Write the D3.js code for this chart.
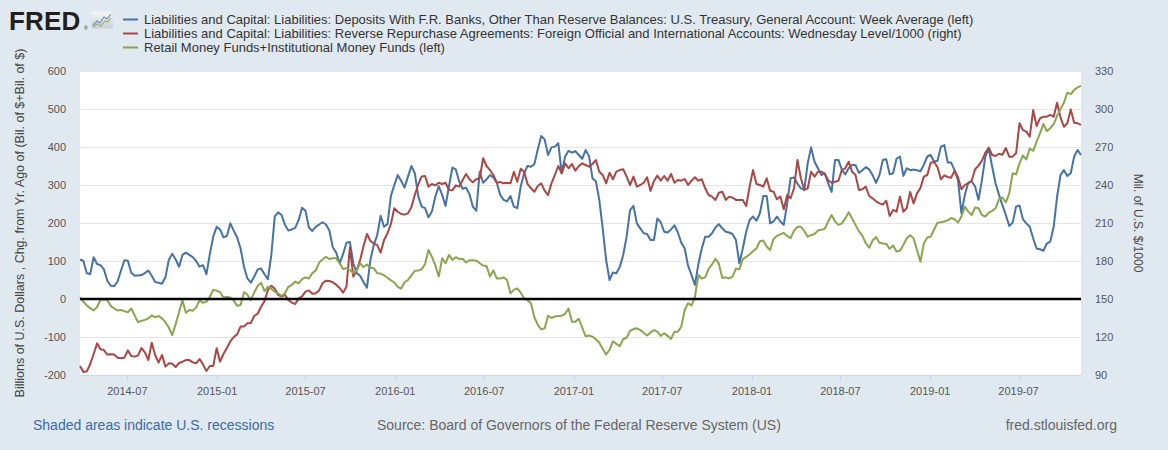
<!DOCTYPE html>
<html><head><meta charset="utf-8">
<script src="https://cdn.jsdelivr.net/npm/d3@7"></script>
<style>
html,body{margin:0;padding:0;background:#e1e9f0;}
svg{display:block;font-family:"Liberation Sans",Arial,sans-serif;}
</style></head>
<body><svg id="c" width="1168" height="450"></svg>
<script>
// ---- data (weekly, starting 2014-03-26) ----
const startDate = "2014-03-26";
const tga = [104,100,68,66,110,92,89,78,48,35,34,46,75,102,101,69,61,62,63,68,75,61,45,43,40,57,103,119,104,85,116,122,116,110,100,85,89,65,118,164,190,183,162,166,199,180,162,133,85,54,43,59,78,80,65,52,116,217,228,221,195,180,183,187,208,240,232,188,179,190,196,
202,196,180,136,122,94,118,148,150,94,68,61,44,30,103,142,168,219,190,197,271,300,326,311,293,322,350,331,271,243,239,215,230,269,297,274,245,296,346,341,309,290,293,276,243,232,335,306,315,326,320,306,274,261,257,271,243,239,296,331,350,348,355,394,429,420,379,399,401,410,331,375,390,
385,389,379,369,392,376,318,310,261,186,103,50,70,68,84,116,164,234,245,199,186,173,171,155,155,212,202,177,175,183,194,175,148,133,87,63,37,92,133,164,164,173,188,197,186,177,175,171,155,94,133,177,208,217,206,225,271,271,199,204,217,204,195,252,318,320,304,291,287,357,399,361,344,
326,331,304,282,366,366,340,328,344,353,352,332,339,347,341,326,306,326,366,368,328,331,369,375,324,344,339,341,339,336,353,375,379,361,364,401,405,359,359,339,313,225,274,306,310,296,261,313,375,396,348,304,274,247,221,192,201,243,246,210,199,190,160,133,131,127,146,151,190,269,326,339,324,331,375,392,379];
const rrp = [97.1,92.4,92.9,98.7,106.6,115,110.3,109.7,106.1,106.3,106.1,103.7,103.2,103.7,109.5,105,104.5,105.5,111.3,107.9,101.8,115.5,105.8,99.7,105.8,96.6,99.2,98.9,96.3,99.5,100.5,101.8,101.8,100,99.2,102.6,98.4,93.2,97.1,97.1,111.1,100.5,106.6,111.3,116.6,120,122.1,128.2,128.2,130.8,131.1,136.6,138.4,143.9,148.2,157.1,160.5,158.2,153.2,151.8,153.2,149.2,147.1,146.1,150.5,152.1,155.8,156.8,154.2,154.5,156.8,
162.4,164.5,164.2,163.2,161.3,158.7,155,159.7,190.8,167.6,172.9,180.8,191.8,201.3,195.8,193.9,192.6,186.6,196.6,201.8,209.2,221.6,218.9,217.1,216.6,217.6,222.4,232.1,240.5,246.8,247.1,238.7,240.8,239.7,241.8,240.8,241.8,236.1,235.8,239.7,238.7,243.9,248.7,244.5,242.1,244.5,245.3,261.1,255,251.8,247.9,241.8,242.4,241.3,241.8,241.3,250.5,242.6,252.9,250.5,240.8,237.4,234.7,239.2,241.3,235.5,232.1,241.3,247.9,255,249.2,257.1,253.2,
256.6,251.3,255,257.1,255.8,254.5,256.6,259.7,250.5,247.9,241.3,249.7,244.5,250.5,251.8,252.4,246.6,240,246.6,238.7,240,241.8,246.1,235.3,243.2,247.4,243.4,247.1,243.4,248.7,241.8,243.9,243.4,244.7,240,243.4,246.1,243.4,244.5,237.4,232.1,230.8,228.2,233.9,234.7,228.2,230.8,230,228.2,228.2,228.2,223.4,238.7,251.8,240.8,240,238.7,245.3,235.5,234.7,228.7,230.8,220.8,232.1,229.5,237.4,259.7,245.3,236.1,237.4,250.5,246.6,250.5,
250.5,248.7,243.7,241.8,242.6,243.4,251.8,253.2,258.4,250.5,247.9,236.1,236.6,238.7,231.3,229.5,227.1,225.5,224.5,227.6,215.5,220.3,218.9,230.8,218.9,221.8,234.5,225.5,233.4,237.6,246.6,247.9,257.6,258.2,254,244.5,247.6,246.3,245.8,251.3,246.1,236.6,240,241.3,243.4,252.4,255.3,259.2,265.5,269.5,263.7,262.9,264.7,263.9,269.2,262.4,262.4,265,288.7,283.4,282.1,278.2,299.2,286.6,292.6,293.9,293.9,295.3,293.9,305,293.4,286,288.7,299.7,289.2,288.7,287.4];
const mmf = [4,-7,-17,-24,-30,-21,-2,-1,-3,-18,-25,-30,-29,-32,-35,-25,-43,-61,-57,-55,-51,-43,-48,-45,-51,-61,-75,-95,-66,-34,-3,-36,-29,-31,-22,-4,-10,-7,6,24,22,18,4,6,4,-4,-18,-16,18,11,-3,17,34,43,21,32,27,19,15,8,15,32,37,46,41,52,57,54,68,75,96,
104,111,105,107,107,94,79,81,76,68,75,94,84,91,83,81,68,67,62,56,49,44,32,27,44,50,62,74,75,78,92,129,111,89,59,107,94,116,103,110,105,106,96,102,102,101,94,88,87,59,75,54,54,57,50,15,24,28,17,1,-3,-11,-48,-68,-80,-77,-44,-50,-46,-45,-44,-39,-25,
-60,-60,-52,-75,-98,-96,-99,-106,-115,-131,-146,-134,-111,-118,-124,-106,-102,-84,-79,-77,-82,-89,-96,-88,-82,-86,-97,-90,-97,-105,-86,-86,-73,-29,-11,-17,6,63,54,57,79,91,106,93,55,57,54,59,80,78,105,111,117,126,133,152,154,138,129,158,166,170,174,166,160,180,190,190,179,164,168,171,180,
182,185,204,221,204,195,199,212,228,212,195,178,167,147,135,154,163,148,146,145,132,141,125,127,142,160,168,159,129,98,146,162,164,183,201,202,204,207,213,210,201,217,243,230,221,241,239,221,217,227,232,239,262,267,254,278,331,328,357,378,367,396,390,414,436,461,442,449,460,482,499,517,543,539,550,557,561];
const leftTicks = [-200,-100,0,100,200,300,400,500,600];
const rightTicks = [90,120,150,180,210,240,270,300,330];
const legendLabels = [
 "Liabilities and Capital: Liabilities: Deposits With F.R. Banks, Other Than Reserve Balances: U.S. Treasury, General Account: Week Average (left)",
 "Liabilities and Capital: Liabilities: Reverse Repurchase Agreements: Foreign Official and International Accounts: Wednesday Level/1000 (right)",
 "Retail Money Funds+Institutional Money Funds (left)"];
const colors = ["#4572a7","#aa4643","#89a54e"];

// ---- layout ----
const L=80, R=1081, T=71, B=375;
const svg = d3.select("#c");
const t0 = new Date(startDate+"T00:00:00Z").getTime();
const dates = tga.map((_,i)=>new Date(t0 + i*7*864e5));
const x = d3.scaleUtc().domain([dates[0], dates[dates.length-1]]).range([L,R]);
const yL = d3.scaleLinear().domain([-200,600]).range([B,T]);
const yR = d3.scaleLinear().domain([90,330]).range([B,T]);

svg.append("rect").attr("x",L).attr("y",T).attr("width",R-L).attr("height",B-T).attr("fill","#fff");
// grid
svg.append("g").selectAll("line").data(leftTicks.slice(1)).join("line")
 .attr("x1",L).attr("x2",R).attr("y1",d=>Math.round(yL(d))+0.5).attr("y2",d=>Math.round(yL(d))+0.5)
 .attr("stroke","#e6e6e6").attr("stroke-width",1);
// x axis line and ticks
svg.append("line").attr("x1",L).attr("x2",R).attr("y1",B+0.5).attr("y2",B+0.5).attr("stroke","#ccd6eb");
const xt = x.ticks(d3.utcMonth.every(6));
svg.append("g").selectAll("line").data(xt).join("line")
 .attr("x1",d=>Math.round(x(d))+0.5).attr("x2",d=>Math.round(x(d))+0.5).attr("y1",B).attr("y2",B+6).attr("stroke","#ccd6eb");
svg.append("g").selectAll("text").data(xt).join("text")
 .attr("x",d=>x(d)).attr("y",395).attr("text-anchor","middle").attr("font-size",11).attr("fill","#555")
 .text(d3.utcFormat("%Y-%m"));
// y labels
svg.append("g").selectAll("text").data(leftTicks).join("text")
 .attr("x",66).attr("y",d=>yL(d)+4).attr("text-anchor","end").attr("font-size",11).attr("fill","#555").text(d=>d);
svg.append("g").selectAll("text").data(rightTicks).join("text")
 .attr("x",1095).attr("y",d=>yR(d)+4).attr("text-anchor","start").attr("font-size",11).attr("fill","#555").text(d=>d);
// axis titles
svg.append("text").attr("transform","translate(24,223) rotate(-90)").attr("text-anchor","middle")
 .attr("font-size",12.5).attr("fill","#444").text("Billions of U.S. Dollars , Chg. from Yr. Ago of (Bil. of $+Bil. of $)");
svg.append("text").attr("transform","translate(1134,223) rotate(90)").attr("text-anchor","middle")
 .attr("font-size",12).attr("fill","#444").text("Mil. of U.S. $/1000");

// lines
const g = svg.append("g");
const mk = (sc)=>d3.line().x((d,i)=>x(dates[i])).y(d=>sc(d));
g.append("path").datum(tga).attr("d",mk(yL)).attr("fill","none").attr("stroke",colors[0]).attr("stroke-width",2).attr("stroke-linejoin","round");
g.append("path").datum(rrp).attr("d",mk(yR)).attr("fill","none").attr("stroke",colors[1]).attr("stroke-width",2).attr("stroke-linejoin","round");
g.append("path").datum(mmf).attr("d",mk(yL)).attr("fill","none").attr("stroke",colors[2]).attr("stroke-width",2).attr("stroke-linejoin","round");
// zero line
svg.append("line").attr("x1",L).attr("x2",R).attr("y1",yL(0)).attr("y2",yL(0)).attr("stroke","#000").attr("stroke-width",2.5);

// legend
const lg = svg.append("g");
legendLabels.forEach((t,i)=>{
  const yy = 19.5 + i*14;
  lg.append("line").attr("x1",123).attr("x2",138).attr("y1",yy).attr("y2",yy).attr("stroke",colors[i]).attr("stroke-width",2);
  lg.append("text").attr("x",144).attr("y",yy+4.4).attr("font-size",13).attr("fill","#333").text(t);
});

// logo
svg.append("text").attr("x",9).attr("y",30).attr("font-size",26).attr("font-weight","bold").attr("fill","#231f20")
 .attr("letter-spacing",0.2).text("FRED");
svg.append("text").attr("x",84).attr("y",30).attr("font-size",5).attr("fill","#231f20").text("®");
const defs = svg.append("defs");
const gr = defs.append("linearGradient").attr("id","icg").attr("x1",0).attr("y1",0).attr("x2",0).attr("y2",1);
gr.append("stop").attr("offset",0).attr("stop-color","#f4f6f8");
gr.append("stop").attr("offset",1).attr("stop-color","#c9d0d8");
const ic = svg.append("g");
ic.append("rect").attr("x",91).attr("y",11.5).attr("width",22).attr("height",17).attr("rx",2).attr("fill","url(#icg)");
ic.append("polyline").attr("points","93,25 97,21 100,23 104,17 107,19 111,14").attr("fill","none").attr("stroke","#6d8fb8").attr("stroke-width",1.2);
ic.append("polyline").attr("points","93,27 97,24 101,26 105,21 108,22 111,18").attr("fill","none").attr("stroke","#9bb36a").attr("stroke-width",1.2);

// footer
svg.append("text").attr("x",33).attr("y",430).attr("font-size",14).attr("fill","#3a6aa5").text("Shaded areas indicate U.S. recessions");
svg.append("text").attr("x",377).attr("y",430).attr("font-size",14).attr("fill","#666").text("Source: Board of Governors of the Federal Reserve System (US)");
svg.append("text").attr("x",1117).attr("y",430).attr("font-size",14).attr("fill","#666").attr("text-anchor","end").text("fred.stlouisfed.org");
</script></body></html>
